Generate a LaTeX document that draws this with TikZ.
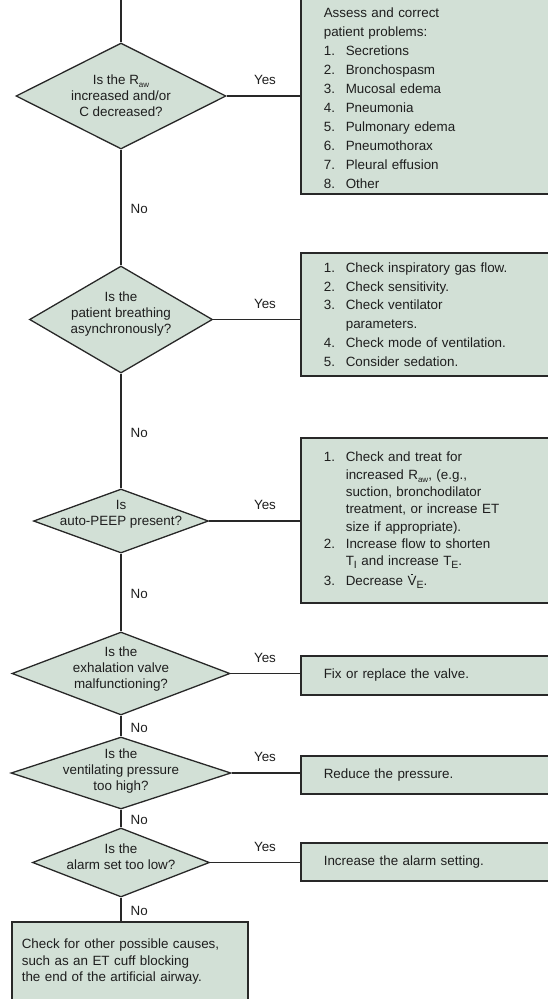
\documentclass[tikz,border=0pt]{standalone}
\usepackage{fontspec}
\setmainfont{Liberation Sans}
\usetikzlibrary{shapes.geometric}

\definecolor{boxfill}{RGB}{210,224,214}
\definecolor{edge}{RGB}{40,40,40}
\definecolor{ink}{RGB}{30,30,30}

% small and larger subscripts, dotted V (dot drawn as a tiny rule), list helpers
\newcommand\smsub[1]{\raisebox{-0.22em}{\fontsize{8}{8}\selectfont #1}}
\newcommand\bgsub[1]{\raisebox{-0.22em}{\fontsize{10.5}{10.5}\selectfont #1}}
\newcommand\dotV{\rlap{\hspace{0.27em}\raisebox{0.8em}{\rule{1.7pt}{1.7pt}}}V}
\newcommand\num[1]{\makebox[22pt][l]{#1}}
\newcommand\cont{\hspace*{22pt}}

\begin{document}
\begin{tikzpicture}[x=1pt,y=-1pt,
  every node/.style={text=ink},
  query/.style={diamond, draw=edge, fill=boxfill, line width=1.3pt, inner sep=0pt},
  qtext/.style={align=center, font=\fontsize{13.4}{16}\selectfont, inner sep=0pt},
  actbox/.style={rectangle, draw=edge, fill=boxfill, line width=1.6pt, anchor=west,
    align=left, text width=254pt, inner xsep=23pt, inner ysep=0pt,
    font=\fontsize{13.4}{18.8}\selectfont},
  flow/.style={draw=edge, line width=1.3pt},
  yeslabel/.style={pos=1, anchor=center, xshift=-35pt, yshift=16pt,
    font=\fontsize{13.4}{16}\selectfont, inner sep=0pt},
  nolabel/.style={midway, anchor=west, xshift=9pt, yshift=-1.5pt,
    font=\fontsize{13.4}{16}\selectfont, inner sep=0pt}
]
\useasboundingbox (0,0) rectangle (548,999);
\clip (0,0) rectangle (548,999);

\coordinate (top) at (121,-5);

% decision diamonds
\node[query, minimum width=210pt, minimum height=106pt] (q1) at (121,96) {};
\node[query, minimum width=183pt, minimum height=107pt] (q2) at (121,319.5) {};
\node[query, minimum width=175pt, minimum height=64pt]  (q3) at (121,521) {};
\node[query, minimum width=218pt, minimum height=83pt]  (q4) at (121,673.5) {};
\node[query, minimum width=220pt, minimum height=72pt]  (q5) at (121,773) {};
\node[query, minimum width=177pt, minimum height=69pt]  (q6) at (121,862.5) {};

\node[qtext] (q1t) at (q1.center) {Is the R\smsub{aw}\\increased and/or\\C decreased?};
\node[qtext, yshift=5.5pt] (q2t) at (q2.center) {Is the\\patient breathing\\asynchronously?};
\node[qtext, yshift=6.5pt] (q3t) at (q3.center) {Is\\auto-PEEP present?};
\node[qtext, yshift=4pt] (q4t) at (q4.center) {Is the\\exhalation valve\\malfunctioning?};
\node[qtext, yshift=1.5pt] (q5t) at (q5.center) {Is the\\ventilating pressure\\too high?};
\node[qtext, yshift=6pt] (q6t) at (q6.center) {Is the\\alarm set too low?};

% action boxes
\node[actbox, anchor=south west, inner ysep=6pt, font=\fontsize{13.4}{19}\selectfont] (a1) at (300,195)
  {\rule{0pt}{30pt}Assess and correct\\
   patient problems:\\
   \num{1.}Secretions\\
   \num{2.}Bronchospasm\\
   \num{3.}Mucosal edema\\
   \num{4.}Pneumonia\\
   \num{5.}Pulmonary edema\\
   \num{6.}Pneumothorax\\
   \num{7.}Pleural effusion\\
   \num{8.}Other};

\node[actbox, minimum height=123pt] (a2) at (300,314.5)
  {\num{1.}Check inspiratory gas flow.\\
   \num{2.}Check sensitivity.\\
   \num{3.}Check ventilator\\
   \cont parameters.\\
   \num{4.}Check mode of ventilation.\\
   \num{5.}Consider sedation.};

\node[actbox, minimum height=165pt, font=\fontsize{13.4}{17.3}\selectfont] (a3) at (300,520.5)
  {\num{1.}Check and treat for\\
   \cont increased R\smsub{aw}, (e.g.,\\
   \cont suction, bronchodilator\\
   \cont treatment, or increase ET\\
   \cont size if appropriate).\\
   \num{2.}Increase flow to shorten\\
   \cont T\bgsub{I} and increase T\bgsub{E}.\\[3pt]
   \num{3.}Decrease \dotV\bgsub{E}.};

\node[actbox, minimum height=39pt] (a4) at (300,675.5) {Fix or replace the valve.};
\node[actbox, minimum height=38pt] (a5) at (300,775) {Reduce the pressure.};
\node[actbox, minimum height=38pt] (a6) at (300,862) {Increase the alarm setting.};

\node[actbox, anchor=north west, text width=216pt, inner xsep=10pt, minimum height=80pt,
  font=\fontsize{13.4}{16.5}\selectfont] (fin) at (11,921)
  {Check for other possible causes,\\
   such as an ET cuff blocking\\
   the end of the artificial airway.};

% main column
\draw[flow] (top) -- (q1.north);
\draw[flow] (q1.south) -- node[nolabel] {No} (q2.north);
\draw[flow] (q2.south) -- node[nolabel] {No} (q3.north);
\draw[flow] (q3.south) -- node[nolabel] {No} (q4.north);
\draw[flow] (q4.south) -- node[nolabel] {No} (q5.north);
\draw[flow] (q5.south) -- node[nolabel] {No} (q6.north);
\draw[flow] (q6.south) -- node[nolabel] {No} (q6.south |- fin.north);

% yes branches
\draw[flow] (q1.east) -- (q1.east -| a1.west) node[yeslabel] {Yes};
\draw[flow] (q2.east) -- (q2.east -| a2.west) node[yeslabel] {Yes};
\draw[flow] (q3.east) -- (q3.east -| a3.west) node[yeslabel] {Yes};
\draw[flow] (q4.east) -- (q4.east -| a4.west) node[yeslabel] {Yes};
\draw[flow] (q5.east) -- (q5.east -| a5.west) node[yeslabel] {Yes};
\draw[flow] (q6.east) -- (q6.east -| a6.west) node[yeslabel] {Yes};
\end{tikzpicture}
\end{document}
